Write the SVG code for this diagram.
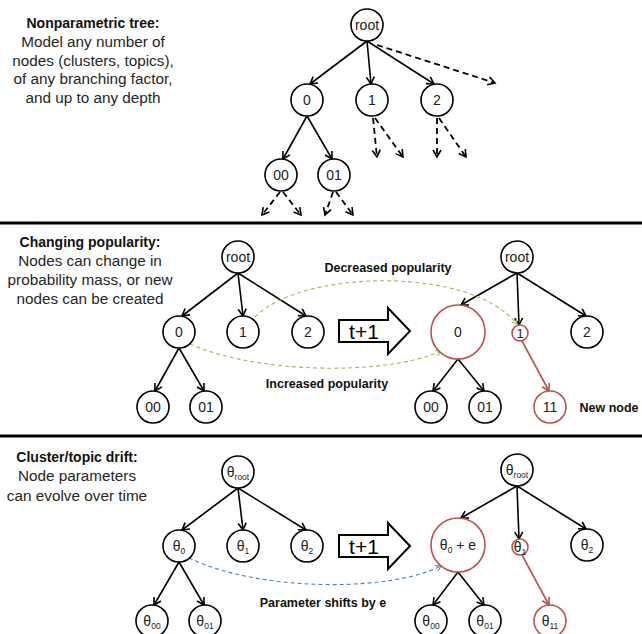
<svg xmlns="http://www.w3.org/2000/svg" width="642" height="634" viewBox="0 0 642 634">
<style>
.n{fill:#fff;stroke:#000;stroke-width:1.6}
.r{fill:#fff;stroke:#c0504d;stroke-width:1.6}
.lb{font-family:"Liberation Sans",Arial,sans-serif;font-size:14px;text-anchor:middle;fill:#222}
.sb{font-size:8.5px}
.e{stroke:#000;stroke-width:1.6;fill:none;marker-end:url(#ah)}
.d{stroke:#000;stroke-width:1.8;fill:none;stroke-dasharray:6,4;marker-end:url(#ah)}
.er{stroke:#c0504d;stroke-width:1.6;fill:none;marker-end:url(#ahr)}
.g{stroke:#9bbb59;stroke-width:1.1;fill:none;stroke-dasharray:4,3;marker-end:url(#ahg)}
.b{stroke:#4f81bd;stroke-width:1.1;fill:none;stroke-dasharray:4,3;marker-end:url(#ahb)}
.h{font-family:"Liberation Sans",Arial,sans-serif;font-size:14px;font-weight:bold;text-anchor:middle;fill:#111}
.t{font-family:"Liberation Sans",Arial,sans-serif;font-size:15.3px;text-anchor:middle;fill:#262626}
.bl{font-family:"Liberation Sans",Arial,sans-serif;font-size:12.5px;font-weight:bold;text-anchor:middle;fill:#111}
.big{fill:#fff;stroke:#000;stroke-width:2}
.sep{stroke:#000;stroke-width:3}
</style>
<defs>
<marker id="ah" markerUnits="userSpaceOnUse" markerWidth="10" markerHeight="10" refX="8" refY="5" orient="auto"><path d="M1,1 L8,5 L1,9" fill="none" stroke="#000" stroke-width="1.6"/></marker>
<marker id="ahr" markerUnits="userSpaceOnUse" markerWidth="10" markerHeight="10" refX="8" refY="5" orient="auto"><path d="M1,1 L8,5 L1,9" fill="none" stroke="#c0504d" stroke-width="1.6"/></marker>
<marker id="ahg" markerUnits="userSpaceOnUse" markerWidth="8" markerHeight="8" refX="6" refY="4" orient="auto"><path d="M1,1 L6,4 L1,7" fill="none" stroke="#9bbb59" stroke-width="1.1"/></marker>
<marker id="ahb" markerUnits="userSpaceOnUse" markerWidth="8" markerHeight="8" refX="6" refY="4" orient="auto"><path d="M1,1 L6,4 L1,7" fill="none" stroke="#4f81bd" stroke-width="1.1"/></marker>
</defs>

<g id="separators">
<line class="sep" x1="0" y1="223" x2="642" y2="223"/>
<line class="sep" x1="0" y1="436" x2="642" y2="436"/>
</g>

<g id="captions">
<text class="h" x="93" y="28">Nonparametric tree:</text>
<text class="t" x="93" y="47">Model any number of</text>
<text class="t" x="93" y="66">nodes (clusters, topics),</text>
<text class="t" x="93" y="84">of any branching factor,</text>
<text class="t" x="93" y="103">and up to any depth</text>
<text class="h" x="90" y="247">Changing popularity:</text>
<text class="t" x="90" y="266">Nodes can change in</text>
<text class="t" x="90" y="285">probability mass, or new</text>
<text class="t" x="90" y="304">nodes can be created</text>
<text class="h" x="77" y="462">Cluster/topic drift:</text>
<text class="t" x="77" y="481">Node parameters</text>
<text class="t" x="77" y="501">can evolve over time</text>
<text class="bl" x="388" y="272">Decreased popularity</text>
<text class="bl" x="327" y="388">Increased popularity</text>
<text class="bl" x="609" y="412">New node</text>
<text class="bl" x="323" y="607">Parameter shifts by e</text>
</g>

<g id="connectors">
<!-- panel 1 -->
<line class="e" x1="367" y1="41" x2="310" y2="84"/>
<line class="e" x1="367" y1="41" x2="371" y2="84"/>
<line class="e" x1="367" y1="41" x2="434" y2="84"/>
<line class="d" x1="377" y1="45" x2="495" y2="83"/>
<line class="e" x1="307" y1="116" x2="283" y2="159"/>
<line class="e" x1="307" y1="116" x2="332" y2="159"/>
<line class="d" x1="373" y1="118" x2="377" y2="157"/>
<line class="d" x1="375" y1="118" x2="403" y2="157"/>
<line class="d" x1="437" y1="118" x2="437" y2="157"/>
<line class="d" x1="439" y1="118" x2="466" y2="157"/>
<line class="d" x1="280" y1="192" x2="262" y2="215"/>
<line class="d" x1="283" y1="192" x2="301" y2="215"/>
<line class="d" x1="333" y1="192" x2="325" y2="215"/>
<line class="d" x1="336" y1="192" x2="353" y2="215"/>
<!-- panel 2 left -->
<line class="e" x1="238" y1="273" x2="182" y2="316"/>
<line class="e" x1="238" y1="273" x2="243" y2="316"/>
<line class="e" x1="238" y1="273" x2="306" y2="316"/>
<line class="e" x1="179" y1="348" x2="155" y2="391"/>
<line class="e" x1="179" y1="348" x2="204" y2="391"/>
<!-- panel 2 right -->
<line class="e" x1="517" y1="273" x2="461" y2="305"/>
<line class="e" x1="517" y1="273" x2="519" y2="325"/>
<line class="e" x1="517" y1="273" x2="586" y2="316"/>
<line class="e" x1="458" y1="359" x2="433" y2="391"/>
<line class="e" x1="458" y1="359" x2="484" y2="391"/>
<line class="er" x1="522" y1="341" x2="549" y2="391"/>
<path class="g" d="M255,317 C300,270 470,265 517,324"/>
<path class="g" d="M190,344 C260,375 390,375 441,351"/>
<!-- panel 3 left -->
<line class="e" x1="238" y1="488" x2="182" y2="530"/>
<line class="e" x1="238" y1="488" x2="243" y2="530"/>
<line class="e" x1="238" y1="488" x2="306" y2="530"/>
<line class="e" x1="179" y1="562" x2="154" y2="605"/>
<line class="e" x1="179" y1="562" x2="204" y2="605"/>
<!-- panel 3 right -->
<line class="e" x1="517" y1="486" x2="461" y2="518"/>
<line class="e" x1="517" y1="486" x2="519" y2="539"/>
<line class="e" x1="517" y1="486" x2="586" y2="529"/>
<line class="e" x1="458" y1="572" x2="433" y2="605"/>
<line class="e" x1="458" y1="572" x2="484" y2="605"/>
<line class="er" x1="522" y1="555" x2="549" y2="605"/>
<path class="b" d="M189,558 C260,592 390,592 441,566"/>
</g>

<g id="step-arrows">
<polygon class="big" points="339,320 388,320 388,308 410,331 388,354 388,342 339,342"/>
<text x="364" y="339" font-family="Liberation Sans,Arial,sans-serif" font-size="21" text-anchor="middle">t+1</text>
<polygon class="big" points="339,535 388,535 388,523 410,546 388,569 388,557 339,557"/>
<text x="364" y="554" font-family="Liberation Sans,Arial,sans-serif" font-size="21" text-anchor="middle">t+1</text>
</g>

<!-- panel 1 nodes -->
<g id="p1-root"><circle class="n" cx="367" cy="25" r="16"/><text class="lb" x="367" y="30">root</text></g>
<g id="p1-0"><circle class="n" cx="307" cy="100" r="16"/><text class="lb" x="307" y="105">0</text></g>
<g id="p1-1"><circle class="n" cx="372" cy="100" r="16"/><text class="lb" x="372" y="105">1</text></g>
<g id="p1-2"><circle class="n" cx="437" cy="100" r="16"/><text class="lb" x="437" y="105">2</text></g>
<g id="p1-00"><circle class="n" cx="281" cy="175" r="16"/><text class="lb" x="281" y="180">00</text></g>
<g id="p1-01"><circle class="n" cx="334" cy="175" r="16"/><text class="lb" x="334" y="180">01</text></g>

<!-- panel 2 left nodes -->
<g id="p2a-root"><circle class="n" cx="238" cy="257" r="16"/><text class="lb" x="238" y="262">root</text></g>
<g id="p2a-0"><circle class="n" cx="179" cy="332" r="16"/><text class="lb" x="179" y="337">0</text></g>
<g id="p2a-1"><circle class="n" cx="243" cy="332" r="16"/><text class="lb" x="243" y="337">1</text></g>
<g id="p2a-2"><circle class="n" cx="308" cy="332" r="16"/><text class="lb" x="308" y="337">2</text></g>
<g id="p2a-00"><circle class="n" cx="153" cy="407" r="16"/><text class="lb" x="153" y="412">00</text></g>
<g id="p2a-01"><circle class="n" cx="206" cy="407" r="16"/><text class="lb" x="206" y="412">01</text></g>

<!-- panel 2 right nodes -->
<g id="p2b-root"><circle class="n" cx="517" cy="257" r="16"/><text class="lb" x="517" y="262">root</text></g>
<g id="p2b-0"><circle class="r" cx="458" cy="332" r="27"/><text class="lb" x="458" y="337">0</text></g>
<g id="p2b-1"><circle class="r" cx="520" cy="333" r="8"/><text class="lb" x="520" y="338" style="font-size:13px">1</text></g>
<g id="p2b-2"><circle class="n" cx="587" cy="332" r="16"/><text class="lb" x="587" y="337">2</text></g>
<g id="p2b-00"><circle class="n" cx="431" cy="407" r="16"/><text class="lb" x="431" y="412">00</text></g>
<g id="p2b-01"><circle class="n" cx="485" cy="407" r="16"/><text class="lb" x="485" y="412">01</text></g>
<g id="p2b-11"><circle class="r" cx="550" cy="407" r="16"/><text class="lb" x="550" y="412">11</text></g>

<!-- panel 3 left nodes -->
<g id="p3a-root"><circle class="n" cx="238" cy="472" r="16"/><text class="lb" x="238" y="477">θ<tspan class="sb" dy="3">root</tspan></text></g>
<g id="p3a-0"><circle class="n" cx="179" cy="546" r="16"/><text class="lb" x="179" y="551">θ<tspan class="sb" dy="3">0</tspan></text></g>
<g id="p3a-1"><circle class="n" cx="243" cy="546" r="16"/><text class="lb" x="243" y="551">θ<tspan class="sb" dy="3">1</tspan></text></g>
<g id="p3a-2"><circle class="n" cx="307" cy="546" r="16"/><text class="lb" x="307" y="551">θ<tspan class="sb" dy="3">2</tspan></text></g>
<g id="p3a-00"><circle class="n" cx="152" cy="621" r="16"/><text class="lb" x="152" y="626">θ<tspan class="sb" dy="3">00</tspan></text></g>
<g id="p3a-01"><circle class="n" cx="205" cy="621" r="16"/><text class="lb" x="205" y="626">θ<tspan class="sb" dy="3">01</tspan></text></g>

<!-- panel 3 right nodes -->
<g id="p3b-root"><circle class="n" cx="517" cy="470" r="16"/><text class="lb" x="517" y="475">θ<tspan class="sb" dy="3">root</tspan></text></g>
<g id="p3b-0"><circle class="r" cx="458" cy="545" r="27"/><text class="lb" x="458" y="550">θ<tspan class="sb" dy="3">0</tspan><tspan dy="-3"> + e</tspan></text></g>
<g id="p3b-1"><circle class="r" cx="520" cy="547" r="8"/><text class="lb" x="520" y="552">θ<tspan class="sb" dy="3">1</tspan></text></g>
<g id="p3b-2"><circle class="n" cx="587" cy="545" r="16"/><text class="lb" x="587" y="550">θ<tspan class="sb" dy="3">2</tspan></text></g>
<g id="p3b-00"><circle class="n" cx="431" cy="621" r="16"/><text class="lb" x="431" y="626">θ<tspan class="sb" dy="3">00</tspan></text></g>
<g id="p3b-01"><circle class="n" cx="485" cy="621" r="16"/><text class="lb" x="485" y="626">θ<tspan class="sb" dy="3">01</tspan></text></g>
<g id="p3b-11"><circle class="r" cx="550" cy="621" r="16"/><text class="lb" x="550" y="626">θ<tspan class="sb" dy="3">11</tspan></text></g>
</svg>
